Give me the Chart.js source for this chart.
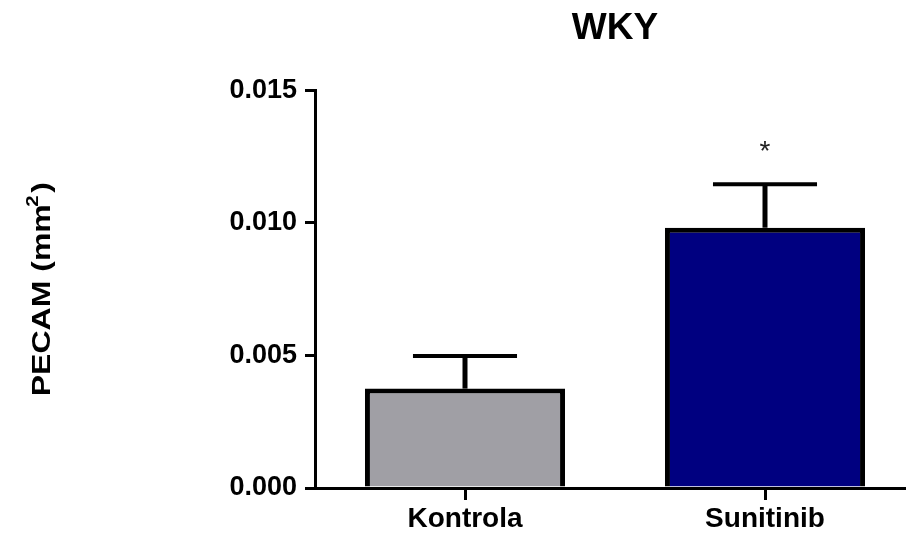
<!DOCTYPE html>
<html>
<head>
<meta charset="utf-8">
<script src="https://cdn.jsdelivr.net/npm/chart.js@4"></script>
<style>
  html, body { margin: 0; padding: 0; background: #fff; overflow: hidden; }
  #wrap { width: 916px; height: 538px; }
</style>
</head>
<body>
<div id="wrap"><canvas id="chart" width="916" height="538"></canvas></div>
<script>
// values
var categories = ['Kontrola', 'Sunitinib'];
var means = [0.00375, 0.00982];
var sem = [0.00123, 0.00164];
var marks = ['', '*'];
var yTicks = [0, 0.005, 0.010, 0.015];
var barColors = ['#a09fa5', '#000080'];

var FONT = 'Liberation Sans, Arial, sans-serif';

// error bars + significance marks, placed through the chart's own scales
var errorBars = {
    id: 'errorBars',
    afterDatasetsDraw: function (chart) {
        var ctx = chart.ctx;
        var meta = chart.getDatasetMeta(0);
        var y = chart.scales.y;
        ctx.save();
        meta.data.forEach(function (bar, i) {
            var top = y.getPixelForValue(means[i] + sem[i]);
            var half = bar.width * 0.26;
            ctx.strokeStyle = '#000';
            ctx.lineWidth = 5;
            ctx.beginPath();
            ctx.moveTo(bar.x, bar.y);
            ctx.lineTo(bar.x, top);
            ctx.stroke();
            ctx.lineWidth = 4;
            ctx.beginPath();
            ctx.moveTo(bar.x - half, top);
            ctx.lineTo(bar.x + half, top);
            ctx.stroke();
            if (marks[i]) {
                ctx.fillStyle = '#222';
                ctx.font = '28px ' + FONT;
                ctx.textAlign = 'center';
                ctx.textBaseline = 'middle';
                ctx.fillText(marks[i], bar.x, top - 32);
            }
        });
        ctx.restore();
    }
};

// y axis title with a real superscript (the original is set a bit wide)
var yTitle = {
    id: 'yTitle',
    afterDraw: function (chart) {
        var ctx = chart.ctx;
        var area = chart.chartArea;
        var main = 'bold 25px ' + FONT;
        var sup = 'bold 16px ' + FONT;
        ctx.save();
        ctx.font = main;
        var w1 = ctx.measureText('PECAM (mm').width;
        var w3 = ctx.measureText(')').width;
        ctx.font = sup;
        var w2 = ctx.measureText('2').width;
        var total = w1 + w2 + w3;
        ctx.translate(43, (area.top + area.bottom) / 2);
        ctx.rotate(-Math.PI / 2);
        ctx.scale(1.28, 1);
        ctx.fillStyle = '#000';
        ctx.textBaseline = 'middle';
        ctx.textAlign = 'left';
        var x0 = -total / 2;
        ctx.font = main;
        ctx.fillText('PECAM (mm', x0, 0);
        ctx.font = sup;
        ctx.fillText('2', x0 + w1 - 2, -9);
        ctx.font = main;
        ctx.fillText(')', x0 + w1 + w2, 0);
        ctx.restore();
    }
};

new Chart(document.getElementById('chart').getContext('2d'), {
    type: 'bar',
    data: {
        labels: categories,
        datasets: [{
            data: means,
            backgroundColor: barColors,
            borderColor: '#000',
            borderWidth: 5,
            borderSkipped: 'start',
            barPercentage: 0.667,
            categoryPercentage: 1.0
        }]
    },
    options: {
        responsive: false,
        animation: false,
        layout: { padding: { top: 0, left: 0, right: 1, bottom: 0 } },
        plugins: {
            legend: { display: false },
            tooltip: { enabled: false },
            title: {
                display: true,
                fullSize: false,
                text: 'WKY',
                color: '#000',
                font: { family: FONT, size: 37, weight: 'bold' },
                padding: { top: 7, bottom: 39 }
            }
        },
        scales: {
            x: {
                grid: { display: true, drawOnChartArea: false, offset: false, color: '#000', lineWidth: 3, tickLength: 12 },
                border: { display: true, color: '#000', width: 3 },
                ticks: { color: '#000', font: { family: FONT, size: 28, weight: 'bold' }, padding: 2 },
                afterFit: function (s) { s.height = 50; }
            },
            y: {
                min: 0,
                max: 0.015,
                afterBuildTicks: function (s) { s.ticks = yTicks.map(function (v) { return { value: v }; }); },
                grid: { display: true, drawOnChartArea: false, color: '#000', lineWidth: 3, tickLength: 10 },
                border: { display: true, color: '#000', width: 3 },
                ticks: {
                    color: '#000',
                    font: { family: FONT, size: 27, weight: 'bold' },
                    padding: 8,
                    callback: function (v) { return Number(v).toFixed(3); }
                },
                afterFit: function (s) { s.width = 315; }
            }
        }
    },
    plugins: [errorBars, yTitle]
});
</script>
</body>
</html>
